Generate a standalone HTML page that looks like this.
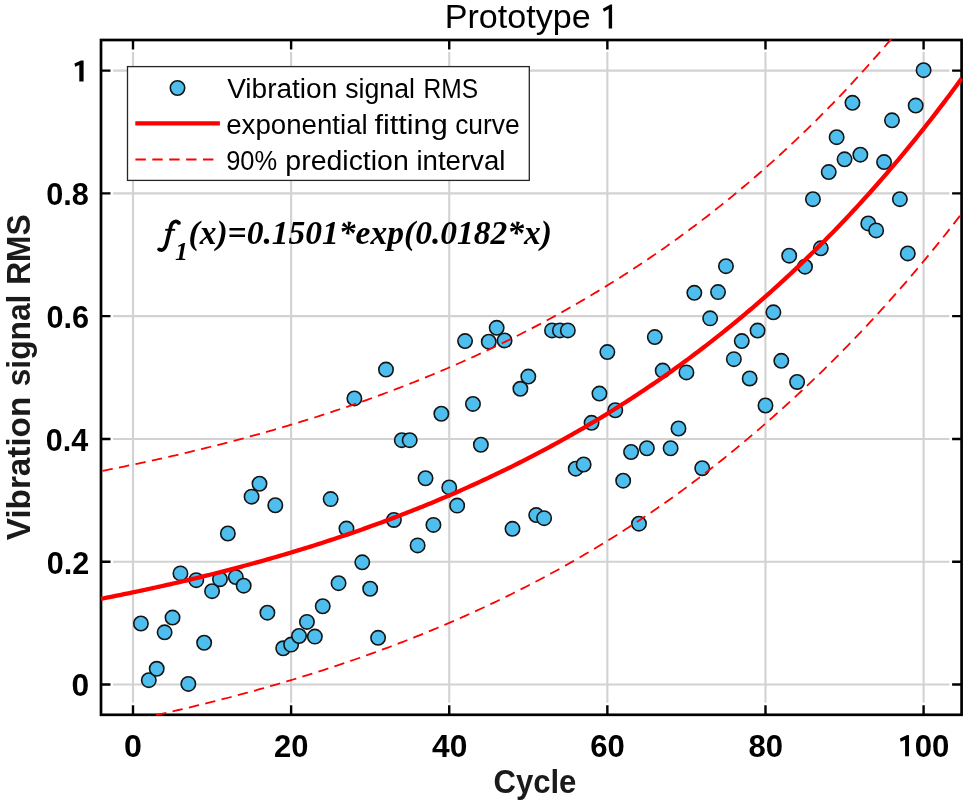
<!DOCTYPE html><html><head><meta charset="utf-8"><style>html,body{margin:0;padding:0;background:#fff;overflow:hidden}svg{display:block;will-change:transform}</style></head><body>
<svg width="969" height="806" viewBox="0 0 969 806">
<defs><clipPath id="ax"><rect x="99.8" y="38.8" width="863.0" height="677.1999999999999"/></clipPath></defs>
<rect width="969" height="806" fill="#fff"/>
<path d="M133.00,51.9 V702.8 M291.12,51.9 V702.8 M449.24,51.9 V702.8 M607.36,51.9 V702.8 M765.48,51.9 V702.8 M923.60,51.9 V702.8 M113.1,684.50 H949.4 M113.1,561.72 H949.4 M113.1,438.94 H949.4 M113.1,316.16 H949.4 M113.1,193.38 H949.4 M113.1,70.60 H949.4" stroke="#d2d2d2" stroke-width="2.1" fill="none"/>
<g fill="#000"><path d="M178.4,222.4 C176.6,220.6 172.6,221.0 171.0,225.6 L166.4,244.4 C165.2,249.0 162.6,250.8 159.8,249.8" stroke="#000" stroke-width="3.6" fill="none" stroke-linecap="round"/><circle cx="178.9" cy="222.9" r="1.9"/><circle cx="159.2" cy="249.3" r="1.9"/><path d="M165.2,229.8 H175.2" stroke="#000" stroke-width="1.9"/><text x="174.95" y="260.20" font-family='"Liberation Serif",serif' font-size="26" font-weight="bold" font-style="italic" >1</text><text x="188.52" y="243.60" font-family='"Liberation Serif",serif' font-size="33.5" font-weight="bold" font-style="italic" textLength="363.52" lengthAdjust="spacingAndGlyphs" >(x)=0.1501*exp(0.0182*x)</text></g>
<g fill="#4dbeee" stroke="#141414" stroke-width="1.6"><circle cx="140.91" cy="623.48" r="7.2"/><circle cx="148.81" cy="680.20" r="7.2"/><circle cx="156.72" cy="668.78" r="7.2"/><circle cx="164.62" cy="632.32" r="7.2"/><circle cx="172.53" cy="617.58" r="7.2"/><circle cx="180.44" cy="573.38" r="7.2"/><circle cx="188.34" cy="683.89" r="7.2"/><circle cx="196.25" cy="580.14" r="7.2"/><circle cx="204.15" cy="642.75" r="7.2"/><circle cx="212.06" cy="591.19" r="7.2"/><circle cx="219.97" cy="579.22" r="7.2"/><circle cx="227.87" cy="533.48" r="7.2"/><circle cx="235.78" cy="577.07" r="7.2"/><circle cx="243.68" cy="585.66" r="7.2"/><circle cx="251.59" cy="496.65" r="7.2"/><circle cx="259.50" cy="483.75" r="7.2"/><circle cx="267.40" cy="612.67" r="7.2"/><circle cx="275.31" cy="505.24" r="7.2"/><circle cx="283.21" cy="648.28" r="7.2"/><circle cx="291.12" cy="644.60" r="7.2"/><circle cx="299.03" cy="636.00" r="7.2"/><circle cx="306.93" cy="621.88" r="7.2"/><circle cx="314.84" cy="636.62" r="7.2"/><circle cx="322.74" cy="606.23" r="7.2"/><circle cx="330.65" cy="499.10" r="7.2"/><circle cx="338.56" cy="583.21" r="7.2"/><circle cx="346.46" cy="528.57" r="7.2"/><circle cx="354.37" cy="398.42" r="7.2"/><circle cx="362.27" cy="562.33" r="7.2"/><circle cx="370.18" cy="588.73" r="7.2"/><circle cx="378.09" cy="637.84" r="7.2"/><circle cx="385.99" cy="369.57" r="7.2"/><circle cx="393.90" cy="519.97" r="7.2"/><circle cx="401.80" cy="440.17" r="7.2"/><circle cx="409.71" cy="440.17" r="7.2"/><circle cx="417.62" cy="545.39" r="7.2"/><circle cx="425.52" cy="478.23" r="7.2"/><circle cx="433.43" cy="524.89" r="7.2"/><circle cx="441.33" cy="413.77" r="7.2"/><circle cx="449.24" cy="487.44" r="7.2"/><circle cx="457.15" cy="505.61" r="7.2"/><circle cx="465.05" cy="341.08" r="7.2"/><circle cx="472.96" cy="403.95" r="7.2"/><circle cx="480.86" cy="444.77" r="7.2"/><circle cx="488.77" cy="341.70" r="7.2"/><circle cx="496.68" cy="327.82" r="7.2"/><circle cx="504.58" cy="340.47" r="7.2"/><circle cx="512.49" cy="528.81" r="7.2"/><circle cx="520.39" cy="388.78" r="7.2"/><circle cx="528.30" cy="376.57" r="7.2"/><circle cx="536.21" cy="515.06" r="7.2"/><circle cx="544.11" cy="518.13" r="7.2"/><circle cx="552.02" cy="330.40" r="7.2"/><circle cx="559.92" cy="330.40" r="7.2"/><circle cx="567.83" cy="330.40" r="7.2"/><circle cx="575.74" cy="468.71" r="7.2"/><circle cx="583.64" cy="464.48" r="7.2"/><circle cx="591.55" cy="422.79" r="7.2"/><circle cx="599.45" cy="393.57" r="7.2"/><circle cx="607.36" cy="352.07" r="7.2"/><circle cx="615.27" cy="410.27" r="7.2"/><circle cx="623.17" cy="480.69" r="7.2"/><circle cx="631.08" cy="452.02" r="7.2"/><circle cx="638.98" cy="523.66" r="7.2"/><circle cx="646.89" cy="448.27" r="7.2"/><circle cx="654.80" cy="337.09" r="7.2"/><circle cx="662.70" cy="370.61" r="7.2"/><circle cx="670.61" cy="448.27" r="7.2"/><circle cx="678.51" cy="428.50" r="7.2"/><circle cx="686.42" cy="372.39" r="7.2"/><circle cx="694.33" cy="292.83" r="7.2"/><circle cx="702.23" cy="468.22" r="7.2"/><circle cx="710.14" cy="318.37" r="7.2"/><circle cx="718.04" cy="292.10" r="7.2"/><circle cx="725.95" cy="266.19" r="7.2"/><circle cx="733.86" cy="359.13" r="7.2"/><circle cx="741.76" cy="341.08" r="7.2"/><circle cx="749.67" cy="378.47" r="7.2"/><circle cx="757.57" cy="330.59" r="7.2"/><circle cx="765.48" cy="405.48" r="7.2"/><circle cx="773.39" cy="312.29" r="7.2"/><circle cx="781.29" cy="360.79" r="7.2"/><circle cx="789.20" cy="255.69" r="7.2"/><circle cx="797.10" cy="381.97" r="7.2"/><circle cx="805.01" cy="266.68" r="7.2"/><circle cx="812.92" cy="199.21" r="7.2"/><circle cx="820.82" cy="248.32" r="7.2"/><circle cx="828.73" cy="172.08" r="7.2"/><circle cx="836.63" cy="137.21" r="7.2"/><circle cx="844.54" cy="159.31" r="7.2"/><circle cx="852.45" cy="102.83" r="7.2"/><circle cx="860.35" cy="154.70" r="7.2"/><circle cx="868.26" cy="223.46" r="7.2"/><circle cx="876.16" cy="230.40" r="7.2"/><circle cx="884.07" cy="162.07" r="7.2"/><circle cx="891.98" cy="120.33" r="7.2"/><circle cx="899.88" cy="199.21" r="7.2"/><circle cx="907.79" cy="253.42" r="7.2"/><circle cx="915.69" cy="105.59" r="7.2"/><circle cx="923.60" cy="70.17" r="7.2"/></g>
<path d="M133.00,714.8 v-9.5 M133.00,40.0 v9.5 M291.12,714.8 v-9.5 M291.12,40.0 v9.5 M449.24,714.8 v-9.5 M449.24,40.0 v9.5 M607.36,714.8 v-9.5 M607.36,40.0 v9.5 M765.48,714.8 v-9.5 M765.48,40.0 v9.5 M923.60,714.8 v-9.5 M923.60,40.0 v9.5 M101.0,684.50 h9.5 M961.6,684.50 h-9.5 M101.0,561.72 h9.5 M961.6,561.72 h-9.5 M101.0,438.94 h9.5 M961.6,438.94 h-9.5 M101.0,316.16 h9.5 M961.6,316.16 h-9.5 M101.0,193.38 h9.5 M961.6,193.38 h-9.5 M101.0,70.60 h9.5 M961.6,70.60 h-9.5" stroke="#000" stroke-width="2.4" fill="none"/>
<rect x="101.0" y="40.0" width="860.60" height="674.80" stroke="#000" stroke-width="2.7" fill="none"/>
<g clip-path="url(#ax)" fill="none" stroke="#ff0000">
<path d="M101.00,598.82 L103.87,598.26 L106.74,597.69 L109.61,597.13 L112.47,596.55 L115.34,595.98 L118.21,595.40 L121.08,594.82 L123.95,594.23 L126.82,593.64 L129.69,593.04 L132.56,592.45 L135.42,591.84 L138.29,591.24 L141.16,590.63 L144.03,590.01 L146.90,589.40 L149.77,588.77 L152.64,588.15 L155.50,587.52 L158.37,586.88 L161.24,586.24 L164.11,585.60 L166.98,584.95 L169.85,584.30 L172.72,583.65 L175.59,582.99 L178.45,582.32 L181.32,581.66 L184.19,580.98 L187.06,580.31 L189.93,579.62 L192.80,578.94 L195.67,578.25 L198.53,577.55 L201.40,576.85 L204.27,576.15 L207.14,575.44 L210.01,574.73 L212.88,574.01 L215.75,573.29 L218.62,572.56 L221.48,571.83 L224.35,571.09 L227.22,570.35 L230.09,569.60 L232.96,568.85 L235.83,568.09 L238.70,567.33 L241.56,566.56 L244.43,565.79 L247.30,565.02 L250.17,564.23 L253.04,563.45 L255.91,562.66 L258.78,561.86 L261.65,561.06 L264.51,560.25 L267.38,559.44 L270.25,558.62 L273.12,557.79 L275.99,556.97 L278.86,556.13 L281.73,555.29 L284.59,554.45 L287.46,553.60 L290.33,552.74 L293.20,551.88 L296.07,551.01 L298.94,550.14 L301.81,549.26 L304.68,548.37 L307.54,547.48 L310.41,546.59 L313.28,545.68 L316.15,544.78 L319.02,543.86 L321.89,542.94 L324.76,542.02 L327.62,541.08 L330.49,540.15 L333.36,539.20 L336.23,538.25 L339.10,537.29 L341.97,536.33 L344.84,535.36 L347.71,534.39 L350.57,533.40 L353.44,532.42 L356.31,531.42 L359.18,530.42 L362.05,529.41 L364.92,528.40 L367.79,527.38 L370.65,526.35 L373.52,525.31 L376.39,524.27 L379.26,523.22 L382.13,522.17 L385.00,521.11 L387.87,520.04 L390.74,518.96 L393.60,517.88 L396.47,516.79 L399.34,515.69 L402.21,514.59 L405.08,513.48 L407.95,512.36 L410.82,511.23 L413.68,510.10 L416.55,508.96 L419.42,507.81 L422.29,506.65 L425.16,505.49 L428.03,504.32 L430.90,503.14 L433.77,501.95 L436.63,500.76 L439.50,499.56 L442.37,498.35 L445.24,497.13 L448.11,495.90 L450.98,494.67 L453.85,493.43 L456.71,492.18 L459.58,490.92 L462.45,489.65 L465.32,488.38 L468.19,487.10 L471.06,485.81 L473.93,484.51 L476.80,483.20 L479.66,481.88 L482.53,480.55 L485.40,479.22 L488.27,477.88 L491.14,476.53 L494.01,475.17 L496.88,473.80 L499.74,472.42 L502.61,471.03 L505.48,469.63 L508.35,468.23 L511.22,466.81 L514.09,465.39 L516.96,463.96 L519.83,462.51 L522.69,461.06 L525.56,459.60 L528.43,458.13 L531.30,456.65 L534.17,455.16 L537.04,453.66 L539.91,452.15 L542.77,450.63 L545.64,449.10 L548.51,447.56 L551.38,446.01 L554.25,444.45 L557.12,442.88 L559.99,441.30 L562.86,439.70 L565.72,438.10 L568.59,436.49 L571.46,434.87 L574.33,433.24 L577.20,431.59 L580.07,429.94 L582.94,428.27 L585.80,426.60 L588.67,424.91 L591.54,423.21 L594.41,421.50 L597.28,419.78 L600.15,418.05 L603.02,416.31 L605.89,414.55 L608.75,412.79 L611.62,411.01 L614.49,409.22 L617.36,407.42 L620.23,405.61 L623.10,403.78 L625.97,401.95 L628.83,400.10 L631.70,398.24 L634.57,396.36 L637.44,394.48 L640.31,392.58 L643.18,390.67 L646.05,388.75 L648.92,386.82 L651.78,384.87 L654.65,382.91 L657.52,380.94 L660.39,378.95 L663.26,376.95 L666.13,374.94 L669.00,372.91 L671.86,370.88 L674.73,368.82 L677.60,366.76 L680.47,364.68 L683.34,362.59 L686.21,360.48 L689.08,358.36 L691.95,356.23 L694.81,354.08 L697.68,351.92 L700.55,349.75 L703.42,347.56 L706.29,345.35 L709.16,343.13 L712.03,340.90 L714.89,338.65 L717.76,336.39 L720.63,334.11 L723.50,331.82 L726.37,329.51 L729.24,327.19 L732.11,324.85 L734.98,322.50 L737.84,320.13 L740.71,317.75 L743.58,315.35 L746.45,312.93 L749.32,310.50 L752.19,308.06 L755.06,305.60 L757.92,303.12 L760.79,300.62 L763.66,298.11 L766.53,295.58 L769.40,293.04 L772.27,290.48 L775.14,287.90 L778.01,285.31 L780.87,282.69 L783.74,280.07 L786.61,277.42 L789.48,274.76 L792.35,272.08 L795.22,269.38 L798.09,266.66 L800.95,263.93 L803.82,261.18 L806.69,258.41 L809.56,255.62 L812.43,252.82 L815.30,249.99 L818.17,247.15 L821.04,244.29 L823.90,241.41 L826.77,238.51 L829.64,235.59 L832.51,232.66 L835.38,229.70 L838.25,226.73 L841.12,223.73 L843.98,220.72 L846.85,217.68 L849.72,214.63 L852.59,211.56 L855.46,208.46 L858.33,205.35 L861.20,202.21 L864.07,199.06 L866.93,195.88 L869.80,192.69 L872.67,189.47 L875.54,186.23 L878.41,182.97 L881.28,179.69 L884.15,176.39 L887.01,173.06 L889.88,169.72 L892.75,166.35 L895.62,162.96 L898.49,159.55 L901.36,156.12 L904.23,152.66 L907.10,149.18 L909.96,145.68 L912.83,142.15 L915.70,138.61 L918.57,135.03 L921.44,131.44 L924.31,127.82 L927.18,124.18 L930.04,120.52 L932.91,116.83 L935.78,113.11 L938.65,109.37 L941.52,105.61 L944.39,101.83 L947.26,98.01 L950.13,94.18 L952.99,90.32 L955.86,86.43 L958.73,82.52 L961.60,78.58" stroke-width="4.3"/>
<path d="M101.00,471.14 L103.87,470.58 L106.74,470.01 L109.61,469.44 L112.47,468.87 L115.34,468.29 L118.21,467.71 L121.08,467.13 L123.95,466.54 L126.82,465.95 L129.69,465.35 L132.56,464.76 L135.42,464.15 L138.29,463.55 L141.16,462.93 L144.03,462.32 L146.90,461.70 L149.77,461.08 L152.64,460.45 L155.50,459.82 L158.37,459.18 L161.24,458.54 L164.11,457.90 L166.98,457.25 L169.85,456.60 L172.72,455.94 L175.59,455.28 L178.45,454.62 L181.32,453.95 L184.19,453.27 L187.06,452.59 L189.93,451.91 L192.80,451.22 L195.67,450.53 L198.53,449.83 L201.40,449.13 L204.27,448.43 L207.14,447.72 L210.01,447.00 L212.88,446.28 L215.75,445.56 L218.62,444.83 L221.48,444.10 L224.35,443.36 L227.22,442.61 L230.09,441.87 L232.96,441.11 L235.83,440.36 L238.70,439.59 L241.56,438.82 L244.43,438.05 L247.30,437.27 L250.17,436.49 L253.04,435.70 L255.91,434.91 L258.78,434.11 L261.65,433.30 L264.51,432.50 L267.38,431.68 L270.25,430.86 L273.12,430.04 L275.99,429.21 L278.86,428.37 L281.73,427.53 L284.59,426.68 L287.46,425.83 L290.33,424.97 L293.20,424.11 L296.07,423.24 L298.94,422.36 L301.81,421.48 L304.68,420.59 L307.54,419.70 L310.41,418.80 L313.28,417.90 L316.15,416.99 L319.02,416.07 L321.89,415.15 L324.76,414.22 L327.62,413.29 L330.49,412.35 L333.36,411.40 L336.23,410.45 L339.10,409.49 L341.97,408.52 L344.84,407.55 L347.71,406.57 L350.57,405.59 L353.44,404.60 L356.31,403.60 L359.18,402.60 L362.05,401.59 L364.92,400.57 L367.79,399.54 L370.65,398.51 L373.52,397.48 L376.39,396.43 L379.26,395.38 L382.13,394.32 L385.00,393.26 L387.87,392.19 L390.74,391.11 L393.60,390.02 L396.47,388.93 L399.34,387.83 L402.21,386.72 L405.08,385.61 L407.95,384.49 L410.82,383.36 L413.68,382.22 L416.55,381.08 L419.42,379.93 L422.29,378.77 L425.16,377.60 L428.03,376.43 L430.90,375.24 L433.77,374.05 L436.63,372.86 L439.50,371.65 L442.37,370.44 L445.24,369.22 L448.11,367.99 L450.98,366.75 L453.85,365.50 L456.71,364.25 L459.58,362.99 L462.45,361.72 L465.32,360.44 L468.19,359.15 L471.06,357.86 L473.93,356.56 L476.80,355.24 L479.66,353.92 L482.53,352.59 L485.40,351.25 L488.27,349.91 L491.14,348.55 L494.01,347.19 L496.88,345.81 L499.74,344.43 L502.61,343.04 L505.48,341.64 L508.35,340.23 L511.22,338.81 L514.09,337.38 L516.96,335.94 L519.83,334.50 L522.69,333.04 L525.56,331.57 L528.43,330.10 L531.30,328.61 L534.17,327.12 L537.04,325.61 L539.91,324.10 L542.77,322.57 L545.64,321.04 L548.51,319.49 L551.38,317.94 L554.25,316.37 L557.12,314.80 L559.99,313.21 L562.86,311.61 L565.72,310.01 L568.59,308.39 L571.46,306.76 L574.33,305.12 L577.20,303.47 L580.07,301.81 L582.94,300.14 L585.80,298.46 L588.67,296.77 L591.54,295.07 L594.41,293.35 L597.28,291.62 L600.15,289.89 L603.02,288.14 L605.89,286.38 L608.75,284.60 L611.62,282.82 L614.49,281.03 L617.36,279.22 L620.23,277.40 L623.10,275.57 L625.97,273.73 L628.83,271.87 L631.70,270.00 L634.57,268.12 L637.44,266.23 L640.31,264.33 L643.18,262.41 L646.05,260.48 L648.92,258.54 L651.78,256.59 L654.65,254.62 L657.52,252.64 L660.39,250.65 L663.26,248.64 L666.13,246.62 L669.00,244.59 L671.86,242.54 L674.73,240.48 L677.60,238.41 L680.47,236.32 L683.34,234.22 L686.21,232.11 L689.08,229.98 L691.95,227.84 L694.81,225.69 L697.68,223.52 L700.55,221.33 L703.42,219.13 L706.29,216.92 L709.16,214.69 L712.03,212.45 L714.89,210.20 L717.76,207.92 L720.63,205.64 L723.50,203.34 L726.37,201.02 L729.24,198.69 L732.11,196.34 L734.98,193.98 L737.84,191.60 L740.71,189.21 L743.58,186.80 L746.45,184.38 L749.32,181.94 L752.19,179.48 L755.06,177.01 L757.92,174.52 L760.79,172.01 L763.66,169.49 L766.53,166.96 L769.40,164.40 L772.27,161.83 L775.14,159.24 L778.01,156.64 L780.87,154.01 L783.74,151.37 L786.61,148.72 L789.48,146.04 L792.35,143.35 L795.22,140.64 L798.09,137.92 L800.95,135.17 L803.82,132.41 L806.69,129.63 L809.56,126.83 L812.43,124.01 L815.30,121.18 L818.17,118.32 L821.04,115.45 L823.90,112.56 L826.77,109.64 L829.64,106.71 L832.51,103.76 L835.38,100.80 L838.25,97.81 L841.12,94.80 L843.98,91.77 L846.85,88.73 L849.72,85.66 L852.59,82.57 L855.46,79.46 L858.33,76.34 L861.20,73.19 L864.07,70.02 L866.93,66.83 L869.80,63.62 L872.67,60.39 L875.54,57.13 L878.41,53.86 L881.28,50.56 L884.15,47.25 L887.01,43.91 L889.88,40.55 L892.75,37.16 L895.62,33.76 L898.49,30.33 L901.36,26.88 L904.23,23.41 L907.10,19.91 L909.96,16.40 L912.83,12.86 L915.70,9.29 L918.57,5.70 L921.44,2.09 L924.31,-1.54 L927.18,-5.20 L930.04,-8.88 L932.91,-12.59 L935.78,-16.32 L938.65,-20.08 L941.52,-23.86 L944.39,-27.66 L947.26,-31.49 L950.13,-35.35 L952.99,-39.23 L955.86,-43.13 L958.73,-47.06 L961.60,-51.02" stroke-width="1.8" stroke-dasharray="10.4 6.41" stroke-dashoffset="15.27"/>
<path d="M101.00,726.52 L103.87,725.96 L106.74,725.39 L109.61,724.82 L112.47,724.25 L115.34,723.68 L118.21,723.10 L121.08,722.51 L123.95,721.92 L126.82,721.33 L129.69,720.74 L132.56,720.14 L135.42,719.53 L138.29,718.93 L141.16,718.32 L144.03,717.70 L146.90,717.08 L149.77,716.46 L152.64,715.83 L155.50,715.20 L158.37,714.56 L161.24,713.93 L164.11,713.28 L166.98,712.63 L169.85,711.98 L172.72,711.32 L175.59,710.66 L178.45,710.00 L181.32,709.33 L184.19,708.65 L187.06,707.98 L189.93,707.29 L192.80,706.61 L195.67,705.91 L198.53,705.22 L201.40,704.52 L204.27,703.81 L207.14,703.10 L210.01,702.39 L212.88,701.67 L215.75,700.94 L218.62,700.21 L221.48,699.48 L224.35,698.74 L227.22,698.00 L230.09,697.25 L232.96,696.50 L235.83,695.74 L238.70,694.97 L241.56,694.21 L244.43,693.43 L247.30,692.66 L250.17,691.87 L253.04,691.08 L255.91,690.29 L258.78,689.49 L261.65,688.69 L264.51,687.88 L267.38,687.06 L270.25,686.24 L273.12,685.42 L275.99,684.59 L278.86,683.75 L281.73,682.91 L284.59,682.06 L287.46,681.21 L290.33,680.35 L293.20,679.49 L296.07,678.62 L298.94,677.74 L301.81,676.86 L304.68,675.98 L307.54,675.08 L310.41,674.18 L313.28,673.28 L316.15,672.37 L319.02,671.45 L321.89,670.53 L324.76,669.60 L327.62,668.67 L330.49,667.73 L333.36,666.78 L336.23,665.83 L339.10,664.87 L341.97,663.90 L344.84,662.93 L347.71,661.95 L350.57,660.97 L353.44,659.98 L356.31,658.98 L359.18,657.98 L362.05,656.97 L364.92,655.95 L367.79,654.93 L370.65,653.90 L373.52,652.86 L376.39,651.82 L379.26,650.76 L382.13,649.71 L385.00,648.64 L387.87,647.57 L390.74,646.49 L393.60,645.41 L396.47,644.31 L399.34,643.21 L402.21,642.11 L405.08,640.99 L407.95,639.87 L410.82,638.74 L413.68,637.60 L416.55,636.46 L419.42,635.31 L422.29,634.15 L425.16,632.98 L428.03,631.81 L430.90,630.63 L433.77,629.44 L436.63,628.24 L439.50,627.03 L442.37,625.82 L445.24,624.60 L448.11,623.37 L450.98,622.13 L453.85,620.89 L456.71,619.63 L459.58,618.37 L462.45,617.10 L465.32,615.82 L468.19,614.54 L471.06,613.24 L473.93,611.94 L476.80,610.63 L479.66,609.30 L482.53,607.98 L485.40,606.64 L488.27,605.29 L491.14,603.93 L494.01,602.57 L496.88,601.20 L499.74,599.81 L502.61,598.42 L505.48,597.02 L508.35,595.61 L511.22,594.19 L514.09,592.76 L516.96,591.33 L519.83,589.88 L522.69,588.42 L525.56,586.96 L528.43,585.48 L531.30,583.99 L534.17,582.50 L537.04,580.99 L539.91,579.48 L542.77,577.95 L545.64,576.42 L548.51,574.87 L551.38,573.32 L554.25,571.75 L557.12,570.18 L559.99,568.59 L562.86,567.00 L565.72,565.39 L568.59,563.77 L571.46,562.14 L574.33,560.51 L577.20,558.86 L580.07,557.20 L582.94,555.53 L585.80,553.84 L588.67,552.15 L591.54,550.45 L594.41,548.73 L597.28,547.01 L600.15,545.27 L603.02,543.52 L605.89,541.76 L608.75,539.99 L611.62,538.20 L614.49,536.41 L617.36,534.60 L620.23,532.78 L623.10,530.95 L625.97,529.11 L628.83,527.25 L631.70,525.39 L634.57,523.51 L637.44,521.62 L640.31,519.71 L643.18,517.79 L646.05,515.87 L648.92,513.92 L651.78,511.97 L654.65,510.00 L657.52,508.02 L660.39,506.03 L663.26,504.02 L666.13,502.00 L669.00,499.97 L671.86,497.93 L674.73,495.87 L677.60,493.79 L680.47,491.71 L683.34,489.61 L686.21,487.49 L689.08,485.37 L691.95,483.22 L694.81,481.07 L697.68,478.90 L700.55,476.71 L703.42,474.52 L706.29,472.30 L709.16,470.08 L712.03,467.83 L714.89,465.58 L717.76,463.31 L720.63,461.02 L723.50,458.72 L726.37,456.40 L729.24,454.07 L732.11,451.73 L734.98,449.38 L737.84,447.01 L740.71,444.63 L743.58,442.24 L746.45,439.83 L749.32,437.41 L752.19,434.98 L755.06,432.53 L757.92,430.07 L760.79,427.60 L763.66,425.11 L766.53,422.61 L769.40,420.10 L772.27,417.57 L775.14,415.03 L778.01,412.47 L780.87,409.90 L783.74,407.31 L786.61,404.71 L789.48,402.10 L792.35,399.47 L795.22,396.83 L798.09,394.17 L800.95,391.49 L803.82,388.80 L806.69,386.10 L809.56,383.38 L812.43,380.64 L815.30,377.89 L818.17,375.12 L821.04,372.34 L823.90,369.54 L826.77,366.72 L829.64,363.89 L832.51,361.04 L835.38,358.18 L838.25,355.30 L841.12,352.40 L843.98,349.48 L846.85,346.55 L849.72,343.60 L852.59,340.63 L855.46,337.65 L858.33,334.64 L861.20,331.62 L864.07,328.59 L866.93,325.53 L869.80,322.46 L872.67,319.36 L875.54,316.25 L878.41,313.12 L881.28,309.97 L884.15,306.81 L887.01,303.62 L889.88,300.42 L892.75,297.19 L895.62,293.95 L898.49,290.68 L901.36,287.40 L904.23,284.10 L907.10,280.78 L909.96,277.43 L912.83,274.07 L915.70,270.69 L918.57,267.28 L921.44,263.86 L924.31,260.41 L927.18,256.94 L930.04,253.45 L932.91,249.94 L935.78,246.41 L938.65,242.86 L941.52,239.28 L944.39,235.69 L947.26,232.07 L950.13,228.43 L952.99,224.76 L955.86,221.08 L958.73,217.37 L961.60,213.63" stroke-width="1.8" stroke-dasharray="10.4 6.4" stroke-dashoffset="10.84"/>
</g>
<g fill="#000"><text x="124.06" y="756.50" font-family='"Liberation Sans",sans-serif' font-size="31.3" font-weight="bold" font-style="normal" textLength="17.91" lengthAdjust="spacingAndGlyphs" >0</text><text x="274.04" y="756.50" font-family='"Liberation Sans",sans-serif' font-size="31.3" font-weight="bold" font-style="normal" textLength="34.39" lengthAdjust="spacingAndGlyphs" >20</text><text x="432.01" y="756.50" font-family='"Liberation Sans",sans-serif' font-size="31.3" font-weight="bold" font-style="normal" textLength="35.32" lengthAdjust="spacingAndGlyphs" >40</text><text x="590.22" y="756.50" font-family='"Liberation Sans",sans-serif' font-size="31.3" font-weight="bold" font-style="normal" textLength="34.50" lengthAdjust="spacingAndGlyphs" >60</text><text x="748.40" y="756.50" font-family='"Liberation Sans",sans-serif' font-size="31.3" font-weight="bold" font-style="normal" textLength="34.55" lengthAdjust="spacingAndGlyphs" >80</text><path d="M909.0,735.2 V756.3 H905.1 V739.8 L900.7,741.7 L899.9,738.4 L907.2,735.1 Z"/><text x="914.65" y="756.50" font-family='"Liberation Sans",sans-serif' font-size="31.3" font-weight="bold" font-style="normal" textLength="34.67" lengthAdjust="spacingAndGlyphs" >00</text><text x="71.63" y="696.30" font-family='"Liberation Sans",sans-serif' font-size="31.6" font-weight="bold" font-style="normal" textLength="17.68" lengthAdjust="spacingAndGlyphs" >0</text><text x="46.78" y="573.52" font-family='"Liberation Sans",sans-serif' font-size="31.6" font-weight="bold" font-style="normal" textLength="42.45" lengthAdjust="spacingAndGlyphs" >0.2</text><text x="45.68" y="450.74" font-family='"Liberation Sans",sans-serif' font-size="31.6" font-weight="bold" font-style="normal" textLength="42.48" lengthAdjust="spacingAndGlyphs" >0.4</text><text x="46.47" y="327.96" font-family='"Liberation Sans",sans-serif' font-size="31.6" font-weight="bold" font-style="normal" textLength="42.60" lengthAdjust="spacingAndGlyphs" >0.6</text><text x="46.27" y="205.18" font-family='"Liberation Sans",sans-serif' font-size="31.6" font-weight="bold" font-style="normal" textLength="42.65" lengthAdjust="spacingAndGlyphs" >0.8</text><path d="M83.6,60.6 V81.5 H79.3 V64.9 L75.1,66.7 L74.5,63.6 L81.0,60.4 Z"/></g>
<rect x="127.5" y="66.6" width="401.8" height="113.8" fill="#fff" stroke="#262626" stroke-width="1.3"/>
<circle cx="177.5" cy="88" r="7.2" fill="#4dbeee" stroke="#141414" stroke-width="1.6"/>
<path d="M135.3,123.4 H219.9" stroke="#ff0000" stroke-width="4.3"/>
<path d="M135.4,159.5 H213.6" stroke="#ff0000" stroke-width="1.8" stroke-dasharray="10.4 6.5"/>
<g fill="#000"><text x="227.16" y="97.60" font-family='"Liberation Sans",sans-serif' font-size="28.2" font-weight="normal" font-style="normal" textLength="110.13" lengthAdjust="spacingAndGlyphs" >Vibration</text><text x="345.20" y="97.60" font-family='"Liberation Sans",sans-serif' font-size="28.2" font-weight="normal" font-style="normal" textLength="69.71" lengthAdjust="spacingAndGlyphs" >signal</text><text x="423.54" y="97.60" font-family='"Liberation Sans",sans-serif' font-size="28.2" font-weight="normal" font-style="normal" textLength="54.52" lengthAdjust="spacingAndGlyphs" >RMS</text><text x="226.19" y="134.00" font-family='"Liberation Sans",sans-serif' font-size="28.2" font-weight="normal" font-style="normal" textLength="141.52" lengthAdjust="spacingAndGlyphs" >exponential</text><text x="374.44" y="134.00" font-family='"Liberation Sans",sans-serif' font-size="28.2" font-weight="normal" font-style="normal" textLength="73.26" lengthAdjust="spacingAndGlyphs" >fitting</text><text x="455.14" y="134.00" font-family='"Liberation Sans",sans-serif' font-size="28.2" font-weight="normal" font-style="normal" textLength="64.66" lengthAdjust="spacingAndGlyphs" >curve</text><text x="226.15" y="169.60" font-family='"Liberation Sans",sans-serif' font-size="28.2" font-weight="normal" font-style="normal" textLength="50.98" lengthAdjust="spacingAndGlyphs" >90%</text><text x="285.35" y="169.60" font-family='"Liberation Sans",sans-serif' font-size="28.2" font-weight="normal" font-style="normal" textLength="123.43" lengthAdjust="spacingAndGlyphs" >prediction</text><text x="416.41" y="169.60" font-family='"Liberation Sans",sans-serif' font-size="28.2" font-weight="normal" font-style="normal" textLength="88.99" lengthAdjust="spacingAndGlyphs" >interval</text></g>
<g fill="#000"><text x="444.77" y="28.40" font-family='"Liberation Sans",sans-serif' font-size="33.2" font-weight="normal" font-style="normal" textLength="145.98" lengthAdjust="spacingAndGlyphs" >Prototype</text><path d="M612.1,4.6 V28.4 H608.7 V9.1 L604.0,11.7 L602.8,8.8 L610.5,4.5 Z"/></g>
<g fill="#1a1a1a"><text x="493.46" y="793.30" font-family='"Liberation Sans",sans-serif' font-size="32.9" font-weight="bold" font-style="normal" textLength="82.94" lengthAdjust="spacingAndGlyphs" >Cycle</text></g>
<g fill="#1a1a1a" transform="translate(30,540.3) rotate(-90)"><text x="0.13" y="0.00" font-family='"Liberation Sans",sans-serif' font-size="33.0" font-weight="bold" font-style="normal" textLength="143.38" lengthAdjust="spacingAndGlyphs" >Vibration</text><text x="153.99" y="0.00" font-family='"Liberation Sans",sans-serif' font-size="33.0" font-weight="bold" font-style="normal" textLength="91.72" lengthAdjust="spacingAndGlyphs" >signal</text><text x="255.44" y="0.00" font-family='"Liberation Sans",sans-serif' font-size="33.0" font-weight="bold" font-style="normal" textLength="70.55" lengthAdjust="spacingAndGlyphs" >RMS</text></g>
</svg></body></html>
